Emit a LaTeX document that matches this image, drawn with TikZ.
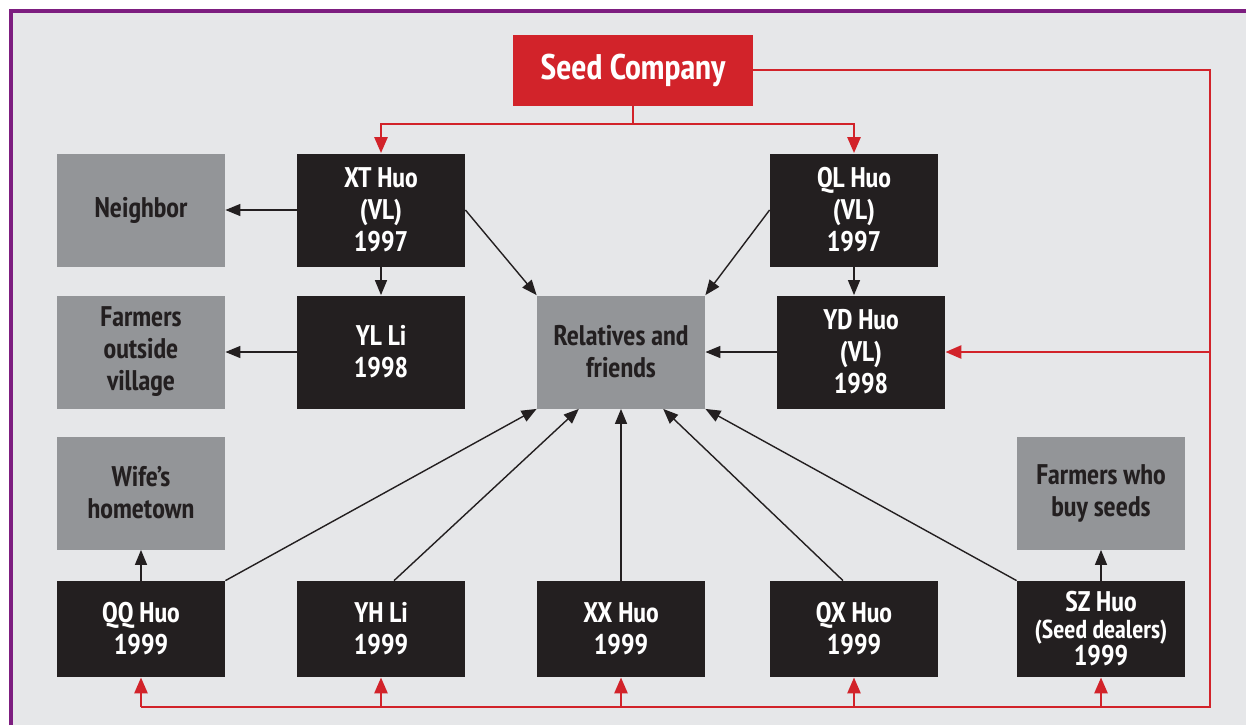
\documentclass[tikz,border=0pt]{standalone}
\usepackage{fontspec}
\setmainfont{PT Sans Narrow}
\usetikzlibrary{arrows.meta,calc}
\definecolor{bg}{HTML}{E6E7E9}
\definecolor{boxk}{HTML}{231F20}
\definecolor{boxg}{HTML}{939598}
\definecolor{redc}{HTML}{D2232A}
\definecolor{purp}{HTML}{7D1E80}
\begin{document}
\begin{tikzpicture}[x=0.5pt,y=-0.5pt,
  box/.style={minimum width=84pt, minimum height=56.5pt, inner sep=0pt, align=center,
    font=\bfseries\fontsize{14.2}{16}\selectfont},
  kbox/.style={box, fill=boxk, text=white},
  gbox/.style={box, fill=boxg, text=boxk},
  shortbox/.style={minimum height=48pt},
  conn/.style={draw=boxk, line width=0.7pt, -{Triangle[length=7.5pt,width=6pt]}},
  rline/.style={draw=redc, line width=1.3pt},
  rarrow/.style={rline, -{Triangle[length=8pt,width=6.5pt]}}]
\useasboundingbox (0,0) rectangle (1246,725);
\fill[white] (0,0) rectangle (1246,725);
\fill[bg] (11,11) rectangle (1246,725);
\draw[purp, line width=1.6pt] (11,725) -- (11,11) -- (1246,11);

% nodes
\node[box, fill=redc, text=white, minimum width=120pt, minimum height=35.5pt,
  font=\bfseries\fontsize{17.8}{20}\selectfont] (seed) at (633,70) {Seed Company};
\node[kbox] (xt) at (381,210) {XT Huo\\(VL)\\1997};
\node[kbox] (ql) at (854,210) {QL Huo\\(VL)\\1997};
\node[gbox] (nb) at (141,210) {Neighbor};
\node[kbox] (yl) at (381,352) {YL Li\\1998};
\node[gbox] (fo) at (141,352) {Farmers\\outside\\village};
\node[gbox] (rf) at (621,352) {Relatives and\\friends};
\node[kbox] (yd) at (861,352) {YD Huo\\(VL)\\1998};
\node[gbox] (wh) at (141,493) {Wife’s\\hometown};
\node[gbox] (fb) at (1101,493) {Farmers who\\buy seeds};
\node[kbox, shortbox] (qq) at (141,629) {QQ Huo\\1999};
\node[kbox, shortbox] (yh) at (381,629) {YH Li\\1999};
\node[kbox, shortbox] (xx) at (621,629) {XX Huo\\1999};
\node[kbox, shortbox] (qx) at (854,629) {QX Huo\\1999};
\node[kbox, shortbox, font=\bfseries\fontsize{14.2}{13.5}\selectfont] (sz) at (1101,629)
  {SZ Huo\\{\fontsize{13}{13.5}\selectfont (Seed dealers)}\\1999};

% red connectors
\coordinate (rb) at (633,124);
\coordinate (ne) at (1210,72);
\coordinate (se) at (1210,707);
\draw[rline] (seed.south) -- (rb);
\draw[rarrow] (rb) -| (xt.north);
\draw[rarrow] (rb) -| (ql.north);
\draw[rline] (seed.east) -- (seed.east -| ne) -- (se) -- (qq.south |- se);
\draw[rarrow] (yd.east -| se) -- (yd.east);
\draw[rarrow] (qq.south |- se) -- (qq.south);
\draw[rarrow] (yh.south |- se) -- (yh.south);
\draw[rarrow] (xx.south |- se) -- (xx.south);
\draw[rarrow] (qx.south |- se) -- (qx.south);
\draw[rarrow] (sz.south |- se) -- (sz.south);

% black connectors
\draw[conn] (xt.west) -- (nb.east);
\draw[conn] (xt.south) -- (yl.north);
\draw[conn] (yl.west) -- (fo.east);
\draw[conn] (xt.east) -- (rf.north west);
\draw[conn] (ql.west) -- (rf.north east);
\draw[conn] (ql.south) -- (ql.south |- yd.north);
\draw[conn] (yd.west) -- (rf.east);
\draw[conn] (qq.north east) -- (rf.south west);
\draw[conn] ([xshift=6.5pt]yh.north) -- ($(rf.south west)!0.25!(rf.south east)$);
\draw[conn] (xx.north) -- (rf.south);
\draw[conn] ([xshift=-5.5pt]qx.north) -- ($(rf.south west)!0.75!(rf.south east)$);
\draw[conn] (sz.north west) -- (rf.south east);
\draw[conn] (qq.north) -- (wh.south);
\draw[conn] (sz.north) -- (fb.south);
\end{tikzpicture}
\end{document}
